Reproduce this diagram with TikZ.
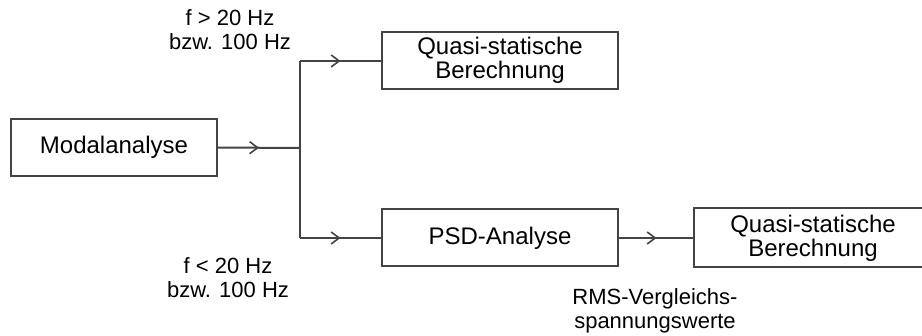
\documentclass[tikz,border=0pt]{standalone}
\usepackage{fontspec}
\setmainfont{Liberation Sans}
\usetikzlibrary{arrows.meta,decorations.markings}
\definecolor{linegray}{HTML}{444444}
\tikzset{
  box/.style={draw=linegray, line width=1pt, minimum width=118pt, minimum height=28.5pt, inner sep=0pt, align=center, font=\fontsize{12}{12}\selectfont},
  lbl/.style={align=center, inner sep=0pt, font=\fontsize{11}{12.3}\selectfont},
  conn/.style={draw=linegray, line width=1pt},
  midarrow/.style={postaction={decorate}, decoration={markings, mark=at position 0.5 with {\arrow[linegray, line width=0.8pt]{Straight Barb[length=4pt,width=6pt]}}}}
}
\begin{document}
\begin{tikzpicture}[x=0.5pt,y=-0.5pt]
\useasboundingbox (0,0) rectangle (922,336);
\node[box, minimum width=103pt] (modal) at (114,147.5) {Modalanalyse};
\node[box] (quasi1) at (500,60.5) {Quasi-statische\\Berechnung};
\node[box] (psd) at (500,238) {PSD-Analyse};
\node[box, draw=none] (quasi2) at (813,238) {Quasi-statische\\Berechnung};
\draw[conn] (quasi2.north west) rectangle ([xshift=20pt]quasi2.south east);
\coordinate (junc) at (300,148);
\coordinate (jtop) at (300,61);
\coordinate (jbot) at (300,238);
\draw[conn, midarrow] (modal.east) -- (junc);
\draw[conn] (jtop) -- (jbot);
\draw[conn, midarrow] (jtop) -- (quasi1.west |- jtop);
\draw[conn, midarrow] (jbot) -- (psd.west);
\draw[conn, midarrow] (psd.east) -- (quasi2.west);
\node[lbl] (lhigh) at (230,29.5) {f > 20 Hz\\bzw. 100 Hz};
\node[lbl] (llow) at (228,277.5) {f < 20 Hz\\bzw. 100 Hz};
\node[lbl] (lrms) at (655,311) {RMS-Vergleichs-\\spannungswerte};
\end{tikzpicture}
\end{document}
